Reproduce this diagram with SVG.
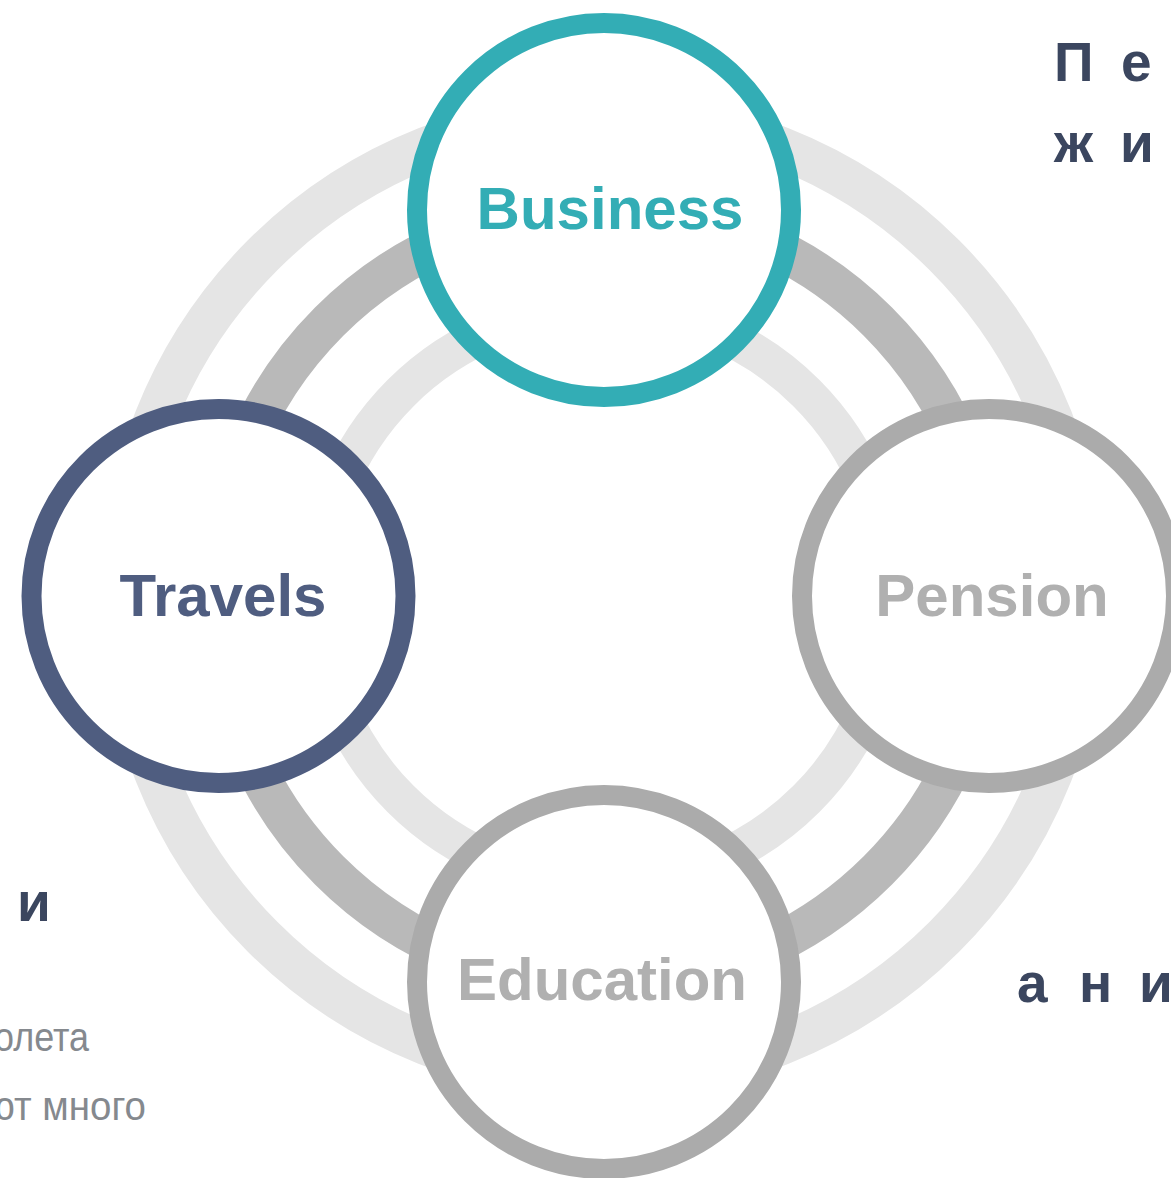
<svg xmlns="http://www.w3.org/2000/svg" width="1171" height="1178" viewBox="0 0 1171 1178">
<style>
.ring{fill:none}
.node circle{fill:#ffffff;stroke-width:20}
.lbl{font-family:"Liberation Sans",Arial,sans-serif;font-weight:bold;font-size:60px;text-anchor:middle}
.side{font-family:"Liberation Sans",Arial,sans-serif;font-weight:bold;font-size:55px;fill:#3b465f}
.note{font-family:"Liberation Sans",Arial,sans-serif;font-size:41px;fill:#85898e}
</style>
<rect width="1171" height="1178" fill="#ffffff"/>
<g id="connectors">
<circle class="ring" cx="603.5" cy="596" r="482" stroke="#e5e5e5" stroke-width="42"/>
<circle class="ring" cx="603.5" cy="596" r="388" stroke="#b9b9b9" stroke-width="40"/>
<circle class="ring" cx="603.5" cy="596" r="287" stroke="#e5e5e5" stroke-width="37"/>
</g>
<g id="node-business" class="node">
<circle cx="604" cy="210" r="187" stroke="#33adb5"/>
<text class="lbl" x="610" y="229" fill="#33adb5">Business</text>
</g>
<g id="node-travels" class="node">
<circle cx="218.5" cy="596" r="187" stroke="#4f5d80"/>
<text class="lbl" x="223" y="616" fill="#4f5d80">Travels</text>
</g>
<g id="node-pension" class="node">
<circle cx="989" cy="596" r="187" stroke="#ababab"/>
<text class="lbl" x="992" y="616" fill="#b0b0b0">Pension</text>
</g>
<g id="node-education" class="node">
<circle cx="604" cy="982" r="187" stroke="#ababab"/>
<text class="lbl" x="602" y="1000" fill="#b0b0b0">Education</text>
</g>
<g id="side-texts">
<text class="side" x="1054 1100 1121" y="81">П е</text>
<text class="side" x="1054 1100 1120" y="162">ж и</text>
<text class="side" x="17" y="921">и</text>
<text class="side" x="1017 1060 1079 1122 1139" y="1002">а н и</text>
<text class="note" x="-6" y="1051" textLength="95" lengthAdjust="spacingAndGlyphs">олета</text>
<text class="note" x="-14" y="1120" textLength="160" lengthAdjust="spacingAndGlyphs">ют много</text>
</g>
</svg>
